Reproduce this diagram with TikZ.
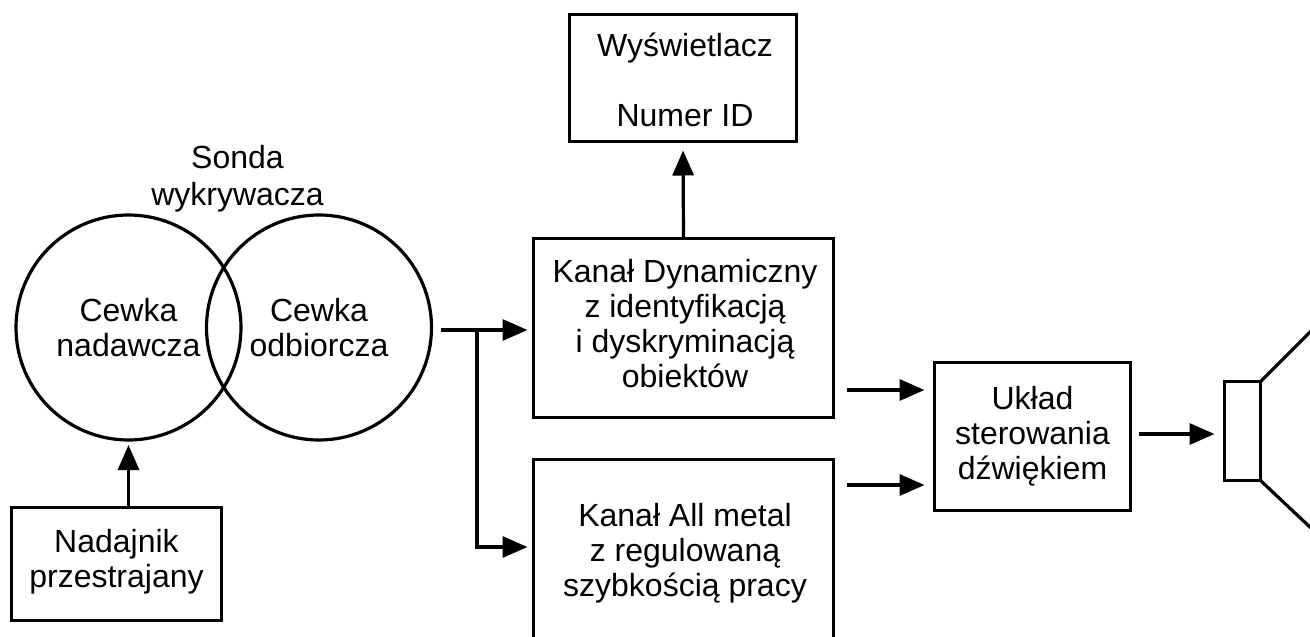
\documentclass[tikz,border=0pt]{standalone}
\usepackage{fontspec}
\setmainfont{Liberation Sans}
\usetikzlibrary{arrows.meta,calc}
\begin{document}
\begin{tikzpicture}[x=1pt,y=-1pt,
  every node/.style={font=\fontsize{32}{35}\selectfont, align=center, inner sep=0pt, outer sep=0pt},
  blk/.style={draw, line width=3.2pt},
  coil/.style={draw, circle, line width=3.2pt, minimum size=225pt},
  arr/.style={line width=3.2pt, -{Triangle[length=25pt,width=21pt]}},
  ln/.style={line width=3.2pt}]
\useasboundingbox (0,0) rectangle (1310,637);

% probe coils
\node[coil] (c1) at (128.5,327.5) {Cewka\\nadawcza};
\node[coil] (c2) at (319,327.5) {Cewka\\odbiorcza};
\node[font=\fontsize{32}{37}\selectfont] (sonda) at (237.5,179) {Sonda\\wykrywacza};

% transmitter
\node[blk, minimum width=210pt, minimum height=113pt] (nad) at (116.5,564) {};
\node (nadt) at (116.5,562) {Nadajnik\\przestrajany};

% display
\node[blk, minimum width=227pt, minimum height=127pt] (wys) at (683,78) {};
\node (wyst) at (685,80) {Wyświetlacz\\[0pt]\\Numer ID};

% channels
\node[blk, minimum width=300pt, minimum height=179pt] (dyn) at (683.5,328) {};
\node (dynt) at (685,324) {Kanał Dynamiczny\\z identyfikacją\\i dyskryminacją\\obiektów};
\node[blk, minimum width=300pt, minimum height=181.5pt] (all) at (683.5,550.25) {};
\node (allt) at (685,553) {Kanał All metal\\z regulowaną\\szybkością pracy};

% sound control
\node[blk, minimum width=196pt, minimum height=148pt] (uk) at (1032.5,436.5) {};
\node (ukt) at (1032.5,436.5) {Układ\\sterowania\\dźwiękiem};

% speaker
\node[blk, minimum width=36pt, minimum height=99pt] (spk) at (1242.5,431) {};
\coordinate (coneT) at (1330,312);
\coordinate (coneB) at (1330,546);
\draw[ln] (spk.north east) -- (coneT);
\draw[ln] (spk.south east) -- (coneB);

% connectors
\coordinate (ysplit) at (0,330);
\coordinate (xsplit) at (477,0);
\coordinate (yall) at (0,547);
\coordinate (yd1) at (0,390);
\coordinate (yd2) at (0,485);
\coordinate (yuk) at (0,434);

\draw[arr, shorten >=5pt] (c1.south |- nad.north) -- (c1.south);
\draw[arr, shorten >=9pt] (dyn.north) -- (wys.south);
\draw[arr, shorten <=9pt, shorten >=6pt] (c2.east |- ysplit) -- (dyn.west |- ysplit);
\draw[arr, shorten >=6pt] (xsplit |- ysplit) -- (xsplit |- yall) -- (all.west |- yall);
\draw[arr, shorten <=13pt, shorten >=10pt] (dyn.east |- yd1) -- (uk.west |- yd1);
\draw[arr, shorten <=13pt, shorten >=10pt] (all.east |- yd2) -- (uk.west |- yd2);
\draw[arr, shorten <=8pt, shorten >=10pt] (uk.east |- yuk) -- (spk.west |- yuk);
\end{tikzpicture}
\end{document}
